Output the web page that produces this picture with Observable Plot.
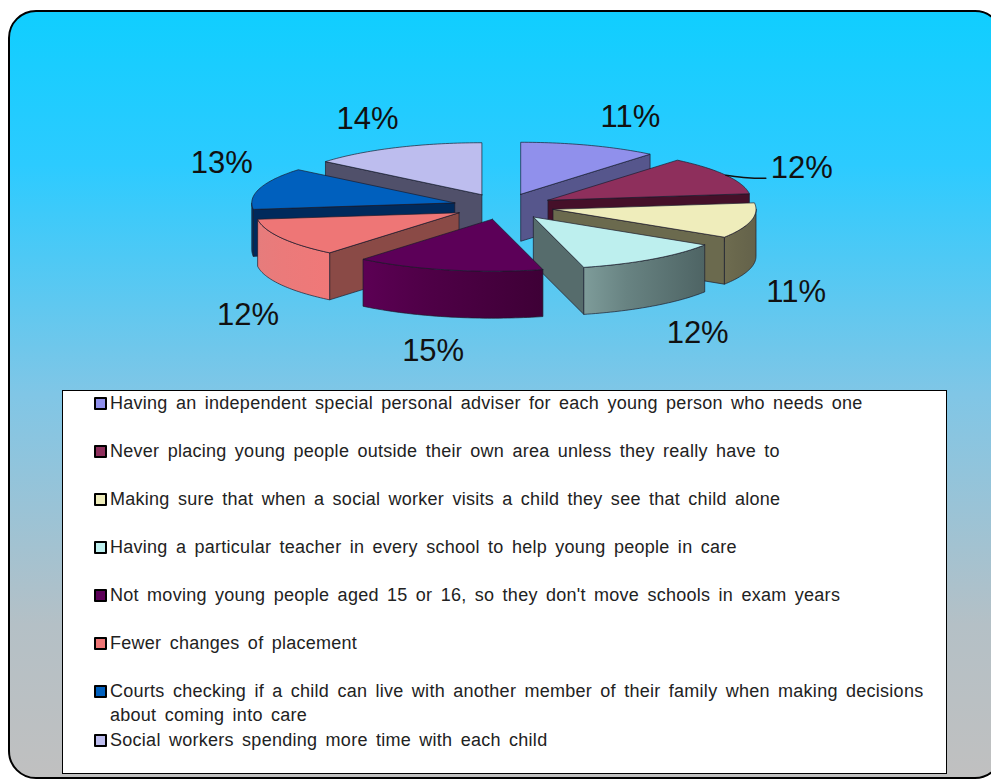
<!DOCTYPE html>
<html>
<head>
<meta charset="utf-8">
<script src="https://cdn.jsdelivr.net/npm/d3@7"></script>
<script src="https://cdn.jsdelivr.net/npm/@observablehq/plot@0.6"></script>
<style>
html,body{margin:0;padding:0;background:#fff;width:991px;height:779px;overflow:hidden}
#frame{position:relative;width:991px;height:779px;overflow:hidden}
#panel{position:absolute;left:8px;top:10px;width:995px;height:769px;box-sizing:border-box;border:2px solid #000;border-radius:28px;
background:linear-gradient(180deg,#10CEFF 0%,#2CCBFF 20%,#80C6E6 50%,#B4C0C6 80%,#C0C0C0 100%)}
#chart{position:absolute;left:0;top:0}
#legend{position:absolute;left:62px;top:390px;width:885px;height:384px;box-sizing:border-box;background:#fff;border:1.5px solid #000;
font:18px/24px "Liberation Sans",Arial,sans-serif;color:#222;padding:0 0 0 31px;word-spacing:3px;letter-spacing:.27px}
.item{display:flex;margin-bottom:24px;width:830px}
.item.tight{margin-bottom:1px}
.sw{flex:none;width:9px;height:9px;border:2px solid #000;border-radius:1px;margin:6px 3px 0 0}
</style>
</head>
<body>
<div id="frame"><div id="panel"></div><div id="chart"></div><div id="legend"></div></div>
<svg width="0" height="0" style="position:absolute">
<defs id="defs"></defs>
</svg>
<script>
const categories = [
  "Having an independent special personal adviser for each young person who needs one",
  "Never placing young people outside their own area unless they really have to",
  "Making sure that when a social worker visits a child they see that child alone",
  "Having a particular teacher in every school to help young people in care",
  "Not moving young people aged 15 or 16, so they don't move schools in exam years",
  "Fewer changes of placement",
  "Courts checking if a child can live with another member of their family when making decisions about coming into care",
  "Social workers spending more time with each child"
];
const shares = [11, 12, 11, 12, 15, 12, 13, 14];
const topColors  = ["#9090EC", "#8E2F5C", "#EFEDBB", "#BDEFEE", "#5C0058", "#EE7676", "#0060BE", "#BDBDEE"];
const sideColors = ["#56568C", "#451029", "#6B6A4E", "#566C6C", "#4E004A", "#8A4A46", "#002A5C", "#50506A"];
const wallStart  = ["#56568C", "#451029", "#6E6C50", "#7E9C9A", "#5C0054", "#E67C7C", "#00386E", "#50506A"];
const wallEnd    = ["#56568C", "#451029", "#64624A", "#4E6464", "#3E0036", "#F07878", "#00386E", "#50506A"];
const paintOrder = [0, 7, 1, 6, 2, 5, 3, 4];
const labelShift = [[41,-28],[76,-7],[45,71],[45,74],[-15,81],[-33,77],[-38,-25],[-28,-29]];

// pie projection
const cx = 503, cy = 206, rx = 203, ry = 52, depth = 47, explode = 0.25;
const rim = (o, t, d = 0) => ({x: o.x + rx * Math.sin(t), y: o.y - ry * Math.cos(t) + d});
const arc = (o, a, b, d = 0) => {
  const n = Math.max(2, Math.ceil((b - a) / 0.02));
  return d3.range(n + 1).map(i => rim(o, a + (b - a) * i / n, d));
};
const total = d3.sum(shares);
let acc = 0;
const slices = shares.map((v, i) => {
  const a = acc / total * 2 * Math.PI; acc += v;
  const b = acc / total * 2 * Math.PI;
  const m = (a + b) / 2;
  const o = {x: cx + explode * rx * Math.sin(m), y: cy - explode * ry * Math.cos(m)};
  return {i, a, b, m, o};
});

document.getElementById("defs").innerHTML = shares.map((_, i) =>
  `<linearGradient id="wall${i}" x1="0" x2="1" y1="0" y2="0"><stop offset="0" stop-color="${wallStart[i]}"/><stop offset="0.35" stop-color="${d3.interpolateRgb(wallStart[i], wallEnd[i])(.45)}"/><stop offset="1" stop-color="${wallEnd[i]}"/></linearGradient>`
).join("");

const edge = {stroke: "#1a1a2a", strokeWidth: 0.9, strokeOpacity: 0.75, strokeLinejoin: "round"};
const face = (pts, fill) => Plot.line([...pts, pts[0]], {x: "x", y: "y", fill, ...edge});

const marks = [];
for (const k of paintOrder) {
  const {a, b, o} = slices[k];
  // straight cut faces that turn toward the viewer
  const cut = t => face([o, rim(o, t), rim(o, t, depth), {x: o.x, y: o.y + depth}], sideColors[k]);
  if (Math.sin(b) > 1e-6) marks.push(cut(b));
  if (Math.sin(a) < -1e-6) marks.push(cut(a));
  // outer wall, front half only
  const w0 = Math.max(a, Math.PI / 2), w1 = Math.min(b, 3 * Math.PI / 2);
  if (w1 > w0) marks.push(face([...arc(o, w0, w1), ...arc(o, w0, w1, depth).reverse()], `url(#wall${k})`));
  // top
  marks.push(face([o, ...arc(o, a, b)], topColors[k]));
}

// leader line of the second slice
const s2 = slices[1], p2 = rim(s2.o, s2.m);
const labels = slices.map(s => {
  const p = rim(s.o, s.m);
  return {x: p.x + labelShift[s.i][0], y: p.y + labelShift[s.i][1], text: shares[s.i] + "%"};
});
marks.push(Plot.line([p2, {x: p2.x + 22, y: p2.y + 3}, {x: labels[1].x - 36, y: labels[1].y + 10}],
  {x: "x", y: "y", stroke: "#111", strokeWidth: 1.4, curve: "basis"}));
marks.push(Plot.text(labels, {x: "x", y: "y", text: "text", fontSize: 31, fontFamily: "Liberation Sans, Arial, sans-serif", fill: "#111", textAnchor: "middle", lineAnchor: "middle"}));

const chart = Plot.plot({
  width: 991, height: 779, margin: 0,
  x: {domain: [0, 991], range: [0, 991], axis: null},
  y: {domain: [0, 779], range: [0, 779], axis: null},
  style: {background: "transparent"},
  marks
});
document.getElementById("chart").append(chart);

const legend = d3.select("#legend");
categories.forEach((c, i) => {
  const it = legend.append("div").attr("class", "item" + (c.length > 100 ? " tight" : ""));
  it.append("div").attr("class", "sw").style("background", topColors[i]);
  it.append("div").text(c);
});
</script>
</body>
</html>
